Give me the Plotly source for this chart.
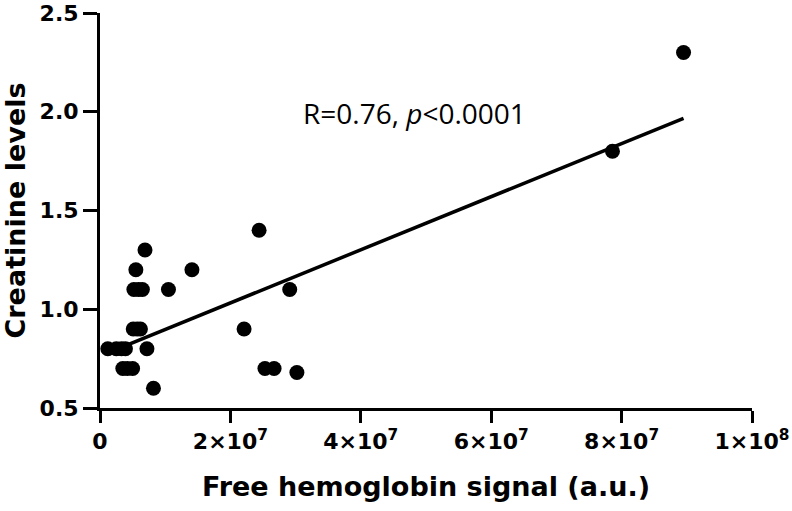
import plotly.graph_objects as go

# Data
hb_signal = [1.2e6, 2.5e6, 3.3e6, 3.9e6, 7.2e6,
             3.5e6, 4.2e6, 5.0e6, 25.3e6, 26.7e6, 30.2e6,
             8.2e6,
             5.1e6, 5.7e6, 6.2e6, 22.1e6,
             5.2e6, 5.9e6, 6.5e6, 10.5e6, 29.1e6,
             5.5e6, 14.1e6,
             6.9e6,
             24.4e6,
             78.6e6,
             89.5e6]
creatinine = [0.8, 0.8, 0.8, 0.8, 0.8,
              0.7, 0.7, 0.7, 0.7, 0.7, 0.68,
              0.6,
              0.9, 0.9, 0.9, 0.9,
              1.1, 1.1, 1.1, 1.1, 1.1,
              1.2, 1.2,
              1.3,
              1.4,
              1.8,
              2.3]

fit_slope = 1.345e-8
fit_intercept = 0.763
annotation_text = "R=0.76, <i>p</i><0.0001"

x_tickvals = [0, 2e7, 4e7, 6e7, 8e7, 1e8]
x_ticktext = ["0", "2×10<sup>7</sup>", "4×10<sup>7</sup>", "6×10<sup>7</sup>",
              "8×10<sup>7</sup>", "1×10<sup>8</sup>"]
y_tickvals = [0.5, 1.0, 1.5, 2.0, 2.5]
y_ticktext = ["0.5", "1.0", "1.5", "2.0", "2.5"]

fit_x = [min(hb_signal), max(hb_signal)]
fit_y = [fit_intercept + fit_slope * v for v in fit_x]

fig = go.Figure()
fig.add_trace(go.Scatter(x=fit_x, y=fit_y, mode="lines",
                         line=dict(color="black", width=3.5),
                         showlegend=False, hoverinfo="skip"))
fig.add_trace(go.Scatter(x=hb_signal, y=creatinine, mode="markers",
                         marker=dict(color="black", size=15, line=dict(width=0)),
                         showlegend=False, cliponaxis=False))

fig.add_annotation(x=48.3e6, y=1.995, text=annotation_text, showarrow=False,
                   xanchor="center", yanchor="middle",
                   font=dict(family="Open Sans", size=28, color="black"))

axis_common = dict(showgrid=False, zeroline=False, showline=True,
                   linecolor="black", linewidth=3, ticks="outside",
                   tickwidth=3, tickcolor="black", ticklabeloverflow="allow")

fig.update_xaxes(range=[0, 1e8], tickvals=x_tickvals, ticktext=x_ticktext, ticklen=12,
                 tickfont=dict(family="DejaVu Sans", size=22, color="black", weight="bold"),
                 title=dict(text="Free hemoglobin signal (a.u.)", standoff=24,
                            font=dict(family="DejaVu Sans", size=27, color="black", weight="bold")),
                 **axis_common)
fig.update_yaxes(range=[0.5, 2.5], tickvals=y_tickvals, ticktext=y_ticktext, ticklen=14,
                 tickfont=dict(family="DejaVu Sans", size=22, color="black", weight="bold"),
                 title=dict(text="Creatinine levels", standoff=14,
                            font=dict(family="DejaVu Sans", size=27, color="black", weight="bold")),
                 **axis_common)

fig.update_layout(width=792, height=511,
                  margin=dict(l=100, r=40, t=13, b=103, autoexpand=False),
                  plot_bgcolor="white", paper_bgcolor="white")

fig.write_html("out.html", config={"displayModeBar": False},
               post_script="document.body.style.margin='0';document.body.style.overflow='hidden';")
